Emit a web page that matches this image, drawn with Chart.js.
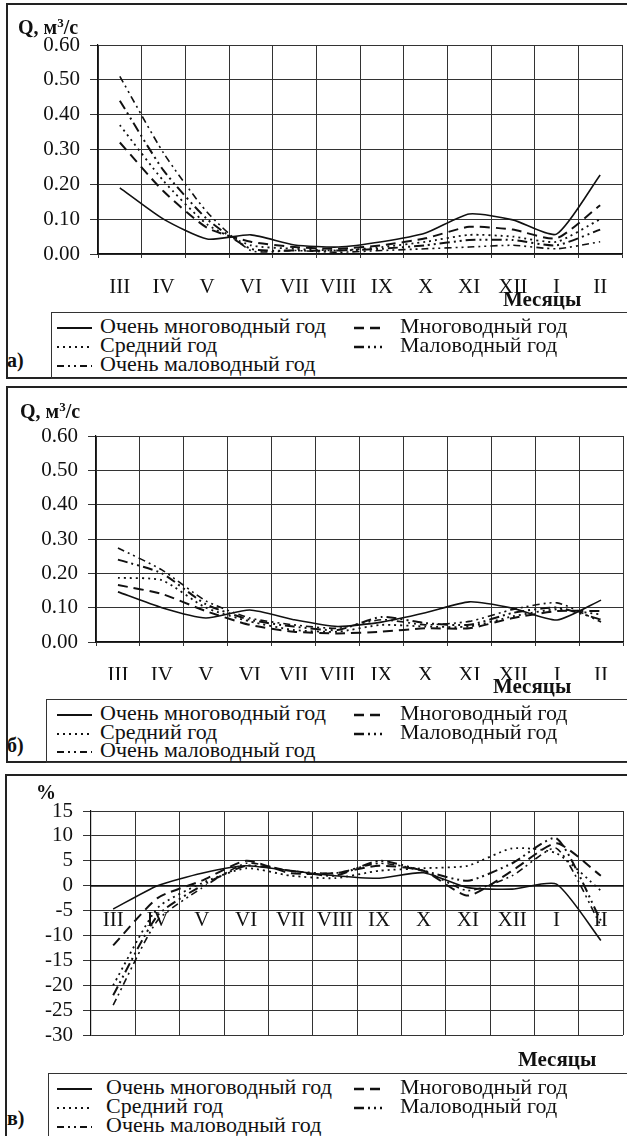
<!DOCTYPE html>
<html><head><meta charset="utf-8">
<script src="https://cdn.jsdelivr.net/npm/chart.js@4.4.1/dist/chart.umd.min.js"></script>
<style>
body{margin:0;background:#fff;width:627px;height:1136px;position:relative;overflow:hidden;font-family:"Liberation Serif","Times New Roman",serif;color:#111}
.panel{position:absolute;border:2px solid #222;box-sizing:border-box}
.lbox{position:absolute;border:1.5px solid #333;border-right:none;box-sizing:border-box}
.txt{position:absolute;white-space:nowrap;line-height:1}
.leg{font-size:22px}
.bold{font-weight:bold}
canvas{position:absolute;left:0}
svg{position:absolute;overflow:visible}
</style></head><body>
<script>
// ---------- data ----------
const months = ['III','IV','V','VI','VII','VIII','IX','X','XI','XII','I','II'];
const seriesNames = ['Очень многоводный год','Многоводный год','Средний год','Маловодный год','Очень маловодный год'];

// panel а) Q, m3/s
const aVeryWet = [0.19,0.10,0.043,0.055,0.026,0.02,0.035,0.06,0.115,0.098,0.057,0.227];
const aWet     = [0.32,0.18,0.075,0.035,0.02,0.015,0.025,0.045,0.078,0.07,0.045,0.14];
const aMean    = [0.37,0.21,0.085,0.025,0.015,0.01,0.02,0.035,0.055,0.05,0.035,0.10];
const aDry     = [0.44,0.24,0.10,0.015,0.01,0.01,0.015,0.025,0.04,0.04,0.025,0.07];
const aVeryDry = [0.51,0.29,0.12,0.01,0.01,0.005,0.01,0.015,0.02,0.025,0.015,0.035];

// panel б) Q, m3/s
const bVeryWet = [0.146,0.10,0.07,0.093,0.065,0.045,0.058,0.085,0.117,0.098,0.064,0.122];
const bWet     = [0.166,0.14,0.09,0.05,0.03,0.025,0.03,0.04,0.04,0.07,0.09,0.09];
const bMean    = [0.187,0.18,0.10,0.06,0.035,0.03,0.05,0.045,0.045,0.075,0.095,0.08];
const bDry     = [0.24,0.20,0.11,0.065,0.045,0.035,0.073,0.055,0.05,0.085,0.10,0.065];
const bVeryDry = [0.274,0.21,0.12,0.07,0.05,0.04,0.065,0.05,0.06,0.095,0.114,0.058];

// panel в) %
const cVeryWet = [-4.7,0,2.5,4,3,2,1.5,2.6,-0.4,-0.7,0.3,-11];
const cWet     = [-12,-2.5,1,5,2.5,2.5,4,3,-2,3,8.5,2];
const cMean    = [-20,-4.5,0.5,3.5,2,1.5,3,3.5,4,7.5,6.5,-1];
const cDry     = [-22,-6,0,4,3,2,5,3,1,4.5,9.5,-7];
const cVeryDry = [-24,-7,-0.5,4.5,3,2.5,4.5,3,-1,2,7.5,-8];

const qTickStep = 0.1, qMin = 0, qMax = 0.6;
const pTickStep = 5, pMin = -30, pMax = 15;

// ---------- styles ----------
const FONT = '"Liberation Serif","Times New Roman",serif';
const dashes = [[], [10,6], [2,4], [10,4,2,4,2,4], [7,4,2,4,2,4]];
const widths = [1.6, 2, 1.8, 2, 1.6];
const svgDash = ['', '10,6', '2,4', '10,4,2,4,2,4', '7,4,2,4,2,4'];
const GRID = '#333';

function addDiv(cls, style, html){
  const d = document.createElement('div');
  d.className = cls; d.setAttribute('style', style);
  if (html !== undefined) d.innerHTML = html;
  document.body.appendChild(d); return d;
}
function addText(x, cy, size, html, bold){
  return addDiv('txt' + (bold ? ' bold' : ''), `left:${x}px;top:${cy - size*0.55}px;font-size:${size}px`, html);
}

function legend(rows, col1Line, col1Text, col2Line, col2Text){
  const pos = [[0,0],[1,0],[0,1],[1,1],[0,2]]; // [col,row]
  seriesNames.forEach((n,i)=>{
    const [c,r] = pos[i];
    const y = rows[r];
    const ln = c === 0 ? col1Line : col2Line;
    const tx = c === 0 ? col1Text : col2Text;
    const svg = document.createElementNS('http://www.w3.org/2000/svg','svg');
    svg.setAttribute('width', ln[1]-ln[0]); svg.setAttribute('height', 6);
    svg.style.left = ln[0]+'px'; svg.style.top = (y-3)+'px';
    const l = document.createElementNS('http://www.w3.org/2000/svg','line');
    l.setAttribute('x1',0); l.setAttribute('x2',ln[1]-ln[0]); l.setAttribute('y1',3); l.setAttribute('y2',3);
    l.setAttribute('stroke','#111'); l.setAttribute('stroke-width', widths[i]+0.3);
    if (svgDash[i]) l.setAttribute('stroke-dasharray', svgDash[i]);
    svg.appendChild(l); document.body.appendChild(svg);
    addDiv('txt leg', `left:${tx}px;top:${y-13}px`, n);
  });
}

function makeChart(top, height, vals, cfg){
  const cv = document.createElement('canvas');
  cv.width = 627; cv.height = height;
  cv.style.top = top + 'px';
  document.body.appendChild(cv);
  const xScale = {
    type:'category', offset:true,
    grid:{offset:true, color:GRID, lineWidth:1, tickLength:cfg.xTick, drawTicks:true},
    border:{color:'#111', width:cfg.xBorder || 1.2},
    ticks:{color:'#111', font:{family:FONT, size:21}, padding:cfg.xPad, maxRotation:0, minRotation:0, autoSkip:false},
    afterFit(s){ s.height = cfg.xHeight; }
  };
  if (cfg.xPos) xScale.position = cfg.xPos;
  return new Chart(cv, {
    type:'line',
    data:{labels:months, datasets: vals.map((v,i)=>({
      label:seriesNames[i], data:v, borderColor:'#111', borderWidth:widths[i],
      borderDash:dashes[i], pointRadius:0, tension:0.2, fill:false
    }))},
    options:{
      responsive:false, animation:false, devicePixelRatio:1,
      layout:{padding:{top:cfg.padTop, right:cfg.padRight, left:0, bottom:cfg.padBottom}},
      plugins:{legend:{display:false}, tooltip:{enabled:false}},
      scales:{
        x:xScale,
        y:{
          min:cfg.min, max:cfg.max,
          ticks:{stepSize:cfg.step, autoSkip:false, color:'#111', font:{family:FONT, size:21}, padding:10,
                 callback:cfg.fmt},
          grid:{color:GRID, lineWidth:1, tickLength:8},
          border:{color:'#111', width:1.2},
          afterFit(s){ s.width = cfg.yWidth; }
        }
      }
    }
  });
}

// ---------- panel а) ----------
addDiv('panel', 'left:6px;top:3px;width:630px;height:376px');
makeChart(0, 300, [aVeryWet,aWet,aMean,aDry,aVeryDry], {
  min:qMin, max:qMax, step:qTickStep, fmt:v=>v.toFixed(2),
  padTop:45, padRight:5, padBottom:0, xHeight:46, yWidth:98, xTick:4, xPad:17
});
addText(18, 28, 20, 'Q, м<sup style="font-size:13px;vertical-align:7px;line-height:0">3</sup>/с', true);
addText(503, 301, 21, 'Месяцы', true);
addDiv('lbox', 'left:51px;top:312px;width:590px;height:67px');
legend([328,347,366],[57,92],100,[354,382],400);
addText(7, 361, 20, 'а)', true);

// ---------- panel б) ----------
addDiv('panel', 'left:6px;top:386px;width:630px;height:377px');
makeChart(380, 300, [bVeryWet,bWet,bMean,bDry,bVeryDry], {
  min:qMin, max:qMax, step:qTickStep, fmt:v=>v.toFixed(2),
  padTop:56, padRight:4, padBottom:0, xHeight:38, yWidth:96, xTick:4, xPad:17
});
addText(20, 412, 20, 'Q, м<sup style="font-size:13px;vertical-align:7px;line-height:0">3</sup>/с', true);
addText(493, 688, 21, 'Месяцы', true);
addDiv('lbox', 'left:46px;top:699px;width:590px;height:64px');
legend([715,734,752],[57,92],100,[354,382],400);
addText(7, 746, 20, 'б)', true);

// ---------- panel в) ----------
addDiv('panel', 'left:5px;top:774px;width:630px;height:366px');
makeChart(760, 300, [cVeryWet,cWet,cMean,cDry,cVeryDry], {
  min:pMin, max:pMax, step:pTickStep, fmt:v=>String(v),
  padTop:51, padRight:4, padBottom:25, xHeight:0, yWidth:91, xTick:6, xPad:16,
  xPos:{y:0}, xBorder:1.8
});
addText(36, 793, 20, '%', true);
addText(518, 1061, 21, 'Месяцы', true);
addDiv('lbox', 'left:48px;top:1073px;width:590px;height:66px');
legend([1089,1108,1127],[57,92],106,[354,382],400);
addText(7, 1119, 20, 'в)', true);
</script>
</body></html>
